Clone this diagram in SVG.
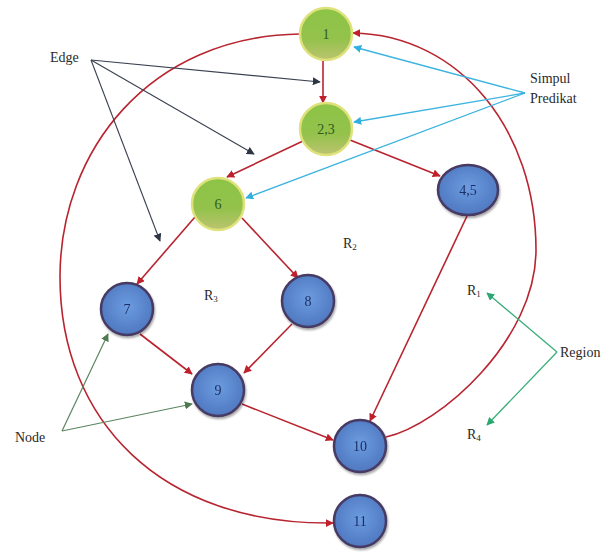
<svg xmlns="http://www.w3.org/2000/svg" width="611" height="554" viewBox="0 0 611 554">
  <style>
    .lbl { font-size: 14px; fill: #2a2a2a; }
    .sub { font-size: 9px; }
    .num { font-size: 14px; text-anchor: middle; }
    .green circle { fill: url(#gGreen); stroke: #dfe27a; stroke-width: 2.5; }
    .green text { fill: #2f5a22; }
    .blue circle, .blue ellipse { fill: url(#gBlue); stroke: #463a64; stroke-width: 2.5; }
    .blue text { fill: #1e2f66; }
    .flow { fill: none; stroke: #b8242f; stroke-width: 1.6; marker-end: url(#aRed); }
    .edge { fill: none; stroke: #3a4150; stroke-width: 1.1; marker-end: url(#aDark); }
    .pred { fill: none; stroke: #3cb4df; stroke-width: 1.3; marker-end: url(#aCyan); }
    .node { fill: none; stroke: #5b8560; stroke-width: 1.2; marker-end: url(#aOlive); }
    .reg { fill: none; stroke: #3aae7a; stroke-width: 1.3; marker-end: url(#aTeal); }
  </style>
  <defs>
    <linearGradient id="gGreen" x1="0" y1="0" x2="0" y2="1">
      <stop offset="0" stop-color="#8cc446"/>
      <stop offset="0.6" stop-color="#94c24c"/>
      <stop offset="1" stop-color="#bcc470"/>
    </linearGradient>
    <radialGradient id="gBlue" cx="0.5" cy="0.45" r="0.55">
      <stop offset="0" stop-color="#6c9ce0"/>
      <stop offset="1" stop-color="#4f78c0"/>
    </radialGradient>
    <filter id="shadow" x="-30%" y="-30%" width="160%" height="160%">
      <feDropShadow dx="1" dy="2" stdDeviation="1.2" flood-color="#000" flood-opacity="0.35"/>
    </filter>
    <marker id="aRed" viewBox="0 0 10 10" refX="9" refY="5" markerWidth="8" markerHeight="8" markerUnits="userSpaceOnUse" orient="auto">
      <path d="M0,0 L10,5 L0,10 z" fill="#c0202c"/>
    </marker>
    <marker id="aDark" viewBox="0 0 10 10" refX="9" refY="5" markerWidth="8" markerHeight="8" markerUnits="userSpaceOnUse" orient="auto">
      <path d="M0,0 L10,5 L0,10 z" fill="#2e3544"/>
    </marker>
    <marker id="aCyan" viewBox="0 0 10 10" refX="9" refY="5" markerWidth="8" markerHeight="8" markerUnits="userSpaceOnUse" orient="auto">
      <path d="M0,0 L10,5 L0,10 z" fill="#2fb0e0"/>
    </marker>
    <marker id="aOlive" viewBox="0 0 10 10" refX="9" refY="5" markerWidth="8" markerHeight="8" markerUnits="userSpaceOnUse" orient="auto">
      <path d="M0,0 L10,5 L0,10 z" fill="#4f7a4f"/>
    </marker>
    <marker id="aTeal" viewBox="0 0 10 10" refX="9" refY="5" markerWidth="8" markerHeight="8" markerUnits="userSpaceOnUse" orient="auto">
      <path d="M0,0 L10,5 L0,10 z" fill="#2aa870"/>
    </marker>
  </defs>

  <rect width="611" height="554" fill="#ffffff"/>

  <!-- control-flow connectors -->
  <g id="connectors">
    <path class="flow" d="M 300,34 C 150,36 60,150 60,277 C 60,420 160,525 333,523"/>
    <path class="flow" d="M 386,437 C 440,425 536,340 536,250 C 536,130 460,35 353,33"/>
    <line class="flow" x1="323" y1="61" x2="323" y2="103"/>
    <line class="flow" x1="303" y1="141" x2="227" y2="177"/>
    <line class="flow" x1="350" y1="140" x2="440" y2="176"/>
    <line class="flow" x1="195" y1="217" x2="137" y2="284"/>
    <line class="flow" x1="242" y1="218" x2="298" y2="278"/>
    <line class="flow" x1="140" y1="334" x2="192" y2="374"/>
    <line class="flow" x1="292" y1="324" x2="244" y2="373"/>
    <line class="flow" x1="242" y1="404" x2="333" y2="440"/>
    <line class="flow" x1="467" y1="216" x2="370" y2="421"/>

    <!-- annotation pointers -->
    <line class="edge" x1="91" y1="60" x2="320" y2="82"/>
    <line class="edge" x1="91" y1="60" x2="254" y2="154"/>
    <line class="edge" x1="91" y1="60" x2="160" y2="241"/>

    <line class="pred" x1="525" y1="93" x2="354" y2="47"/>
    <line class="pred" x1="525" y1="93" x2="354" y2="122"/>
    <line class="pred" x1="525" y1="93" x2="246" y2="198"/>

    <line class="node" x1="62" y1="431" x2="108" y2="334"/>
    <line class="node" x1="62" y1="431" x2="192" y2="404"/>

    <line class="reg" x1="557" y1="352" x2="487" y2="293"/>
    <line class="reg" x1="557" y1="352" x2="487" y2="425"/>
  </g>

  <g font-family="'Liberation Serif', 'Times New Roman', serif">
    <!-- predicate nodes -->
    <g id="n1" class="green"><circle cx="326" cy="34" r="26"/><text class="num" x="326" y="39">1</text></g>
    <g id="n23" class="green"><circle cx="326" cy="129" r="26"/><text class="num" x="326" y="134">2,3</text></g>
    <g id="n6" class="green"><circle cx="218" cy="204" r="26"/><text class="num" x="218" y="209">6</text></g>

    <!-- ordinary nodes -->
    <g id="n45" class="blue" filter="url(#shadow)"><ellipse cx="468" cy="190" rx="30" ry="25"/><text class="num" x="468" y="195">4,5</text></g>
    <g id="n7" class="blue" filter="url(#shadow)"><circle cx="127" cy="309" r="26"/><text class="num" x="127" y="314">7</text></g>
    <g id="n8" class="blue" filter="url(#shadow)"><circle cx="308" cy="301" r="26"/><text class="num" x="308" y="306">8</text></g>
    <g id="n9" class="blue" filter="url(#shadow)"><circle cx="218" cy="390" r="26"/><text class="num" x="218" y="395">9</text></g>
    <g id="n10" class="blue" filter="url(#shadow)"><circle cx="360" cy="446" r="26"/><text class="num" x="360" y="451">10</text></g>
    <g id="n11" class="blue" filter="url(#shadow)"><circle cx="360" cy="521" r="26"/><text class="num" x="360" y="526">11</text></g>

    <!-- labels -->
    <g id="labels">
      <text class="lbl" x="50" y="62">Edge</text>
      <text class="lbl" x="530" y="83">Simpul</text>
      <text class="lbl" x="530" y="103">Predikat</text>
      <text class="lbl" x="15" y="442">Node</text>
      <text class="lbl" x="560" y="357">Region</text>
      <text class="lbl" x="343" y="248">R<tspan class="sub" dy="2">2</tspan></text>
      <text class="lbl" x="204" y="300">R<tspan class="sub" dy="2">3</tspan></text>
      <text class="lbl" x="467" y="295">R<tspan class="sub" dy="2">1</tspan></text>
      <text class="lbl" x="467" y="439">R<tspan class="sub" dy="2">4</tspan></text>
    </g>
  </g>
</svg>
